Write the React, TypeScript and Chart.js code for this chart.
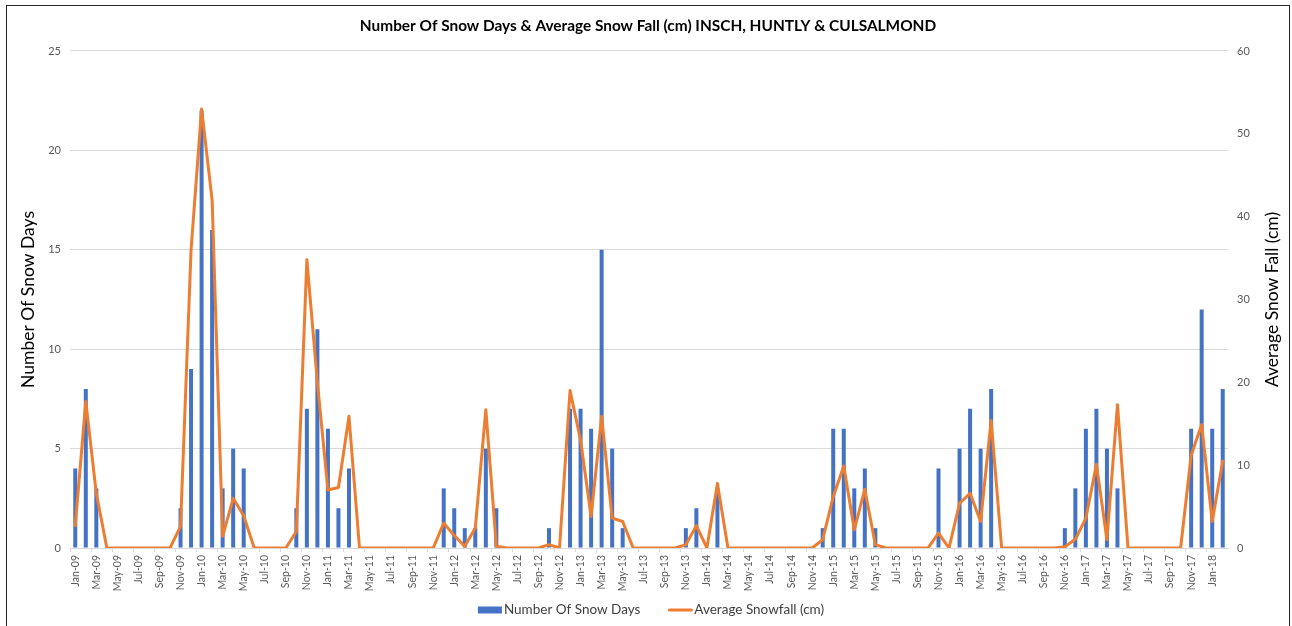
import React, { useEffect, useRef } from "react";
import { Chart, registerables } from "chart.js";

Chart.register(...registerables);

const TITLE = "Number Of Snow Days & Average Snow Fall (cm) INSCH, HUNTLY & CULSALMOND";
const LEFT_TITLE = "Number Of Snow Days";
const RIGHT_TITLE = "Average Snow Fall (cm)";
const BAR_LABEL = "Number Of Snow Days";
const LINE_LABEL = "Average Snowfall (cm)";

const categories = [
  "Jan-09", "Feb-09", "Mar-09", "Apr-09", "May-09", "Jun-09", "Jul-09", "Aug-09", "Sep-09", "Oct-09", "Nov-09", "Dec-09",
  "Jan-10", "Feb-10", "Mar-10", "Apr-10", "May-10", "Jun-10", "Jul-10", "Aug-10", "Sep-10", "Oct-10", "Nov-10", "Dec-10",
  "Jan-11", "Feb-11", "Mar-11", "Apr-11", "May-11", "Jun-11", "Jul-11", "Aug-11", "Sep-11", "Oct-11", "Nov-11", "Dec-11",
  "Jan-12", "Feb-12", "Mar-12", "Apr-12", "May-12", "Jun-12", "Jul-12", "Aug-12", "Sep-12", "Oct-12", "Nov-12", "Dec-12",
  "Jan-13", "Feb-13", "Mar-13", "Apr-13", "May-13", "Jun-13", "Jul-13", "Aug-13", "Sep-13", "Oct-13", "Nov-13", "Dec-13",
  "Jan-14", "Feb-14", "Mar-14", "Apr-14", "May-14", "Jun-14", "Jul-14", "Aug-14", "Sep-14", "Oct-14", "Nov-14", "Dec-14",
  "Jan-15", "Feb-15", "Mar-15", "Apr-15", "May-15", "Jun-15", "Jul-15", "Aug-15", "Sep-15", "Oct-15", "Nov-15", "Dec-15",
  "Jan-16", "Feb-16", "Mar-16", "Apr-16", "May-16", "Jun-16", "Jul-16", "Aug-16", "Sep-16", "Oct-16", "Nov-16", "Dec-16",
  "Jan-17", "Feb-17", "Mar-17", "Apr-17", "May-17", "Jun-17", "Jul-17", "Aug-17", "Sep-17", "Oct-17", "Nov-17", "Dec-17",
  "Jan-18", "Feb-18",
];

const snowDays = [
  4, 8, 3, 0, 0, 0, 0, 0, 0, 0, 2, 9,
  22, 16, 3, 5, 4, 0, 0, 0, 0, 2, 7, 11,
  6, 2, 4, 0, 0, 0, 0, 0, 0, 0, 0, 3,
  2, 1, 1, 5, 2, 0, 0, 0, 0, 1, 0, 7,
  7, 6, 15, 5, 1, 0, 0, 0, 0, 0, 1, 2,
  0, 3, 0, 0, 0, 0, 0, 0, 0, 0, 0, 1,
  6, 6, 3, 4, 1, 0, 0, 0, 0, 0, 4, 0,
  5, 7, 5, 8, 0, 0, 0, 0, 0, 0, 1, 3,
  6, 7, 5, 3, 0, 0, 0, 0, 0, 0, 6, 12,
  6, 8,
];

const snowfall = [
  2.7, 17.7, 6.6, 0, 0, 0, 0, 0, 0, 0, 2.6, 36,
  53, 42, 1.4, 6.0, 3.9, 0, 0, 0, 0, 2.0, 34.8, 20,
  7.0, 7.3, 15.9, 0, 0, 0, 0, 0, 0, 0, 0, 3.0,
  1.5, 0.2, 2.4, 16.7, 0.2, 0, 0, 0, 0, 0.4, 0, 19.0,
  13.0, 3.8, 15.9, 3.6, 3.2, 0, 0, 0, 0, 0, 0.4, 2.7,
  0, 7.8, 0, 0, 0, 0, 0, 0, 0, 0, 0, 1.0,
  6.2, 9.9, 2.2, 7.1, 0.4, 0, 0, 0, 0, 0, 1.8, 0,
  5.4, 6.6, 3.2, 15.4, 0, 0, 0, 0, 0, 0, 0.15, 1.05,
  3.6, 10.1, 1.0, 17.3, 0, 0, 0, 0, 0, 0, 11.2, 14.9,
  3.2, 10.5,
];

const leftTicks = [0, 5, 10, 15, 20, 25];
const rightTicks = [0, 10, 20, 30, 40, 50, 60];

const FONT = "Lato, 'Noto Sans', sans-serif";
const BLUE = "#4472C4";
const ORANGE = "#ED7D31";
const GRID = "#d9d9d9";
const TICK = "#595959";

export default function App() {
  const ref = useRef<HTMLCanvasElement | null>(null);

  useEffect(() => {
    const canvas = ref.current;
    if (!canvas) return;

    const extrasPlugin = {
      id: "extras",
      afterDraw(chart: any) {
        const { ctx, chartArea } = chart;
        // right axis title, reading bottom-to-top
        ctx.save();
        ctx.translate(1272, (chartArea.top + chartArea.bottom) / 2);
        ctx.rotate(-Math.PI / 2);
        ctx.font = `17.5px ${FONT}`;
        ctx.fillStyle = "#000";
        ctx.textAlign = "center";
        ctx.textBaseline = "middle";
        ctx.fillText(RIGHT_TITLE, 0, 0);
        ctx.restore();

        // legend
        ctx.save();
        ctx.font = `13.5px ${FONT}`;
        const w1 = ctx.measureText(BAR_LABEL).width;
        const w2 = ctx.measureText(LINE_LABEL).width;
        const sym = 24;
        const gap = 2;
        const between = 28;
        const total = sym + gap + w1 + between + sym + gap + w2;
        const cx = (chartArea.left + chartArea.right) / 2 + 2;
        const cy = 610;
        let x = cx - total / 2;
        ctx.fillStyle = BLUE;
        ctx.fillRect(x, cy - 3.5, sym, 7);
        x += sym + gap;
        ctx.fillStyle = "#404040";
        ctx.textAlign = "left";
        ctx.textBaseline = "middle";
        ctx.fillText(BAR_LABEL, x, cy);
        x += w1 + between;
        ctx.strokeStyle = ORANGE;
        ctx.lineWidth = 3;
        ctx.lineCap = "round";
        ctx.beginPath();
        ctx.moveTo(x + 1, cy);
        ctx.lineTo(x + sym - 1, cy);
        ctx.stroke();
        x += sym + gap;
        ctx.fillText(LINE_LABEL, x, cy);
        ctx.restore();
      },
    };

    const chart = new Chart(canvas, {
      type: "bar",
      data: {
        labels: categories,
        datasets: [
          {
            type: "line",
            label: LINE_LABEL,
            data: snowfall,
            yAxisID: "y1",
            borderColor: ORANGE,
            backgroundColor: ORANGE,
            borderWidth: 3,
            pointRadius: 0,
            pointHoverRadius: 0,
            tension: 0,
            borderJoinStyle: "round",
            borderCapStyle: "round",
            order: 0,
          } as any,
          {
            type: "bar",
            label: BAR_LABEL,
            data: snowDays,
            yAxisID: "y",
            backgroundColor: BLUE,
            borderWidth: 0,
            barPercentage: 0.38,
            categoryPercentage: 1,
            order: 1,
          } as any,
        ],
      },
      options: {
        responsive: false,
        animation: false,
        layout: { padding: { left: 7, right: 3, top: 6, bottom: 34 } },
        plugins: {
          tooltip: { enabled: false },
          legend: { display: false },
          title: {
            display: true,
            text: TITLE,
            color: "#000",
            font: { family: FONT, size: 15.4, weight: "bold", lineHeight: 1.2 },
            padding: { top: 11, bottom: 15.5 },
          },
        },
        scales: {
          x: {
            type: "category",
            offset: true,
            grid: {
              display: true,
              drawOnChartArea: false,
              drawTicks: true,
              tickLength: 4,
              offset: true,
              color: (c: any) => (c.index % 2 === 0 ? GRID : "rgba(0,0,0,0)"),
            },
            border: { display: true, color: GRID, width: 1 },
            ticks: {
              autoSkip: false,
              minRotation: 90,
              maxRotation: 90,
              padding: 3,
              color: TICK,
              font: { family: FONT, size: 10.5 },
              callback: (_v: any, i: number) => (i % 2 === 0 ? categories[i] : ""),
            },
            afterFit: (s: any) => {
              s.height = 44;
            },
          },
          y: {
            position: "left",
            min: 0,
            max: 25,
            afterBuildTicks: (s: any) => {
              s.ticks = leftTicks.map((v) => ({ value: v }));
            },
            grid: { color: GRID, lineWidth: 1, drawTicks: false },
            border: { display: false },
            ticks: { padding: 9, color: TICK, font: { family: FONT, size: 11 } },
            title: {
              display: true,
              text: LEFT_TITLE,
              color: "#000",
              font: { family: FONT, size: 17.5 },
              padding: { top: 11, bottom: 0 },
            },
            afterFit: (s: any) => {
              s.width = 63;
            },
          },
          y1: {
            position: "right",
            min: 0,
            max: 60,
            afterBuildTicks: (s: any) => {
              s.ticks = rightTicks.map((v) => ({ value: v }));
            },
            grid: { drawOnChartArea: false, drawTicks: false },
            border: { display: false },
            ticks: { padding: 9, color: TICK, font: { family: FONT, size: 11 } },
            afterFit: (s: any) => {
              s.width = 61;
            },
          },
        },
      },
      plugins: [extrasPlugin],
    });

    return () => chart.destroy();
  }, []);

  return (
    <div style={{ position: "fixed", left: 0, top: 0, width: 1292, height: 626, background: "#fff" }}>
      <canvas ref={ref} width={1292} height={626} style={{ display: "block", width: 1292, height: 626 }} />
      <div
        style={{
          position: "absolute",
          left: 6,
          top: 5,
          width: 1284,
          height: 640,
          border: "1px solid #262626",
          boxSizing: "border-box",
          pointerEvents: "none",
        }}
      />
    </div>
  );
}
